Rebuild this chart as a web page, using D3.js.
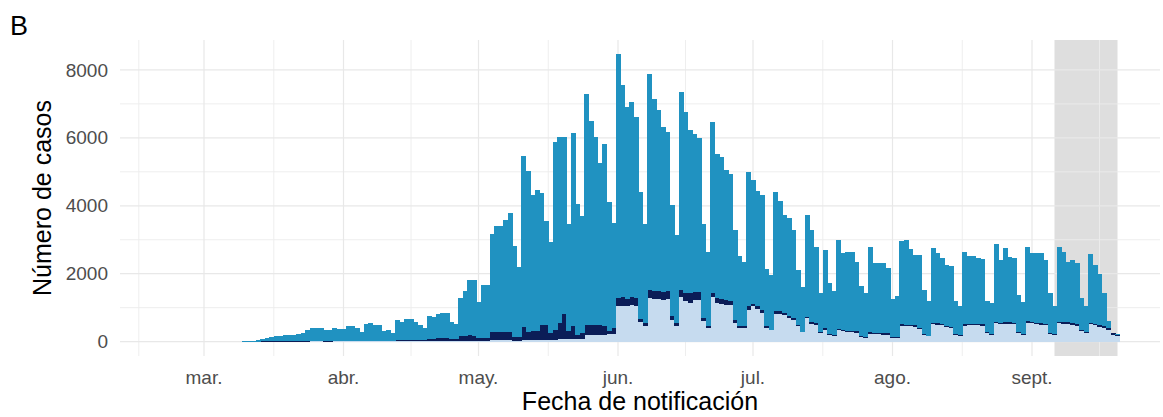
<!DOCTYPE html>
<html lang="es">
<head>
<meta charset="UTF-8">
<title>Número de casos por fecha de notificación</title>
<style>
    html, body { margin: 0; padding: 0; background: #fff; }
    svg { display: block; font-family: "Liberation Sans", Arial, sans-serif; }
    .tick-label { fill: #4d4d4d; font-size: 19px; }
    .axis-title { fill: #000; font-size: 25px; }
    .grid-major { stroke: #e8e8e8; stroke-width: 1.2px; }
    .grid-minor { stroke: #ececec; stroke-width: 0.9px; }
</style>
</head>
<body>
<svg width="1163" height="417"></svg>

<script src="https://d3js.org/d3.v7.min.js"></script>
<script>
    // one value per day, starting 10 March 2020
    const startDate = "2020-03-10";

    // total height of each daily bar
    const totalCases = [
        10, 15, 25, 40, 80, 110, 150, 180, 170, 200,
        200, 210, 230, 260, 330, 400, 410, 390, 330, 350,
        400, 380, 380, 470, 460, 400, 270, 530, 560, 490,
        490, 300, 330, 255, 645, 590, 665, 665, 590, 490,
        400, 760, 740, 820, 840, 830, 565, 527, 1280, 1505,
        1817, 1817, 1163, 1680, 1680, 3155, 3400, 3400, 3595, 3790,
        2813, 2190, 5480, 5010, 4307, 4454, 4375, 3555, 2940, 5870,
        6017, 6017, 3457, 6134, 4043, 3692, 7286, 6485, 6036, 5255,
        5820, 4100, 3480, 8458, 7550, 6895, 7061, 6600, 4420, 3477,
        7872, 7139, 6817, 6329, 6163, 4014, 3135, 7364, 6749, 6231,
        6114, 5987, 3457, 2647, 6475, 5528, 5430, 5040, 4942, 3282,
        2520, 2354, 4991, 4766, 4434, 4307, 2129, 1963, 4405, 4141,
        3720, 3650, 3290, 2110, 1602, 3721, 3301, 2793, 1426, 2696,
        1720, 1504, 2989, 2598, 2647, 2647, 2354, 1642, 1446, 2793,
        2305, 2325, 2325, 2159, 1250, 1350, 2955, 2985, 2715, 2549,
        2549, 1524, 1182, 2745, 2618, 2451, 2256, 2227, 1200, 1036,
        2640, 2520, 2520, 2452, 2440, 1182, 1133, 2861, 2403, 2745,
        2500, 2452, 1377, 1153, 2793, 2598, 2618, 2618, 2403, 1426,
        1055, 2793, 2647, 2354, 2403, 2305, 1280, 1036, 2569, 2256,
        1993, 1426, 596, 254, 230
    ];

    // bottom layer (light blue)
    const lightCases = [
        0, 0, 0, 0, 1, 1, 2, 2, 2, 2,
        2, 2, 3, 3, 3, 4, 4, 4, 3, 3,
        4, 4, 5, 5, 5, 5, 4, 6, 6, 6,
        6, 5, 6, 5, 8, 8, 10, 10, 10, 8,
        8, 14, 14, 15, 15, 15, 12, 12, 20, 20,
        22, 22, 18, 20, 20, 35, 38, 38, 40, 42,
        30, 28, 50, 50, 50, 52, 58, 55, 52, 60,
        70, 80, 80, 80, 75, 80, 200, 205, 205, 205,
        200, 220, 230, 1040, 1060, 1050, 1080, 1050, 580, 450,
        1270, 1260, 1250, 1240, 1250, 645, 469, 1328, 1182, 1133,
        1231, 1230, 597, 400, 1309, 1133, 1110, 1090, 1084, 547,
        400, 400, 918, 1035, 957, 840, 400, 330, 820, 820,
        780, 694, 650, 469, 273, 684, 527, 500, 254, 352,
        205, 156, 332, 300, 280, 270, 260, 140, 120, 234,
        215, 215, 210, 205, 107, 107, 469, 460, 450, 440,
        371, 205, 156, 518, 498, 490, 430, 410, 210, 180,
        469, 480, 490, 480, 470, 254, 205, 547, 520, 530,
        530, 510, 254, 205, 550, 540, 520, 500, 480, 230,
        200, 540, 530, 520, 500, 470, 300, 254, 520, 480,
        440, 400, 332, 200, 170
    ];

    // middle layer (navy)
    const navyCases = [
        1, 1, 2, 2, 3, 3, 4, 4, 4, 5,
        5, 5, 6, 6, 7, 8, 8, 8, 7, 8,
        10, 10, 12, 14, 14, 14, 10, 20, 22, 22,
        22, 15, 20, 15, 35, 35, 40, 40, 35, 30,
        30, 70, 70, 80, 85, 85, 70, 65, 150, 160,
        160, 150, 90, 100, 100, 240, 260, 260, 250, 230,
        120, 100, 380, 230, 270, 250, 440, 445, 200, 270,
        480, 730, 220, 370, 130, 175, 280, 275, 280, 275,
        250, 80, 170, 230, 240, 200, 240, 220, 85, 85,
        240, 230, 240, 220, 230, 100, 78, 196, 244, 290,
        244, 220, 97, 69, 137, 147, 140, 130, 98, 78,
        50, 50, 117, 78, 78, 78, 50, 22, 69, 69,
        60, 68, 50, 30, 25, 40, 40, 50, 40, 50,
        30, 30, 40, 40, 40, 40, 40, 25, 25, 35,
        35, 35, 35, 35, 20, 20, 40, 40, 40, 40,
        35, 25, 20, 40, 40, 40, 35, 35, 25, 20,
        40, 40, 40, 35, 35, 25, 20, 45, 40, 40,
        40, 40, 25, 25, 45, 45, 40, 40, 40, 25,
        20, 40, 40, 45, 45, 45, 30, 25, 40, 50,
        55, 60, 60, 50, 40
    ];

    const yTicks = [0, 2000, 4000, 6000, 8000];
    const yMinorTicks = [1000, 3000, 5000, 7000];
    const monthStarts = ["2020-02-01", "2020-03-01", "2020-04-01", "2020-05-01",
                         "2020-06-01", "2020-07-01", "2020-08-01", "2020-09-01", "2020-10-01"];
    const monthLabels = ["mar.", "abr.", "may.", "jun.", "jul.", "ago.", "sept."];
    const labelDates = ["2020-03-01", "2020-04-01", "2020-05-01", "2020-06-01",
                        "2020-07-01", "2020-08-01", "2020-09-01"];
    const shadeRange = ["2020-09-06", "2020-09-20"];

    const colors = { light: "#c6dbef", navy: "#0b1d57", mid: "#2092c1", shade: "#dedede" };

    const parseDay = d3.timeParse("%Y-%m-%d");
    const parseTime = d3.timeParse("%Y-%m-%d %H:%M");

    const panel = { left: 120, right: 1160, top: 40, bottom: 356 };

    const x = d3.scaleTime()
        .domain([parseTime("2020-02-11 08:00"), parseTime("2020-09-29 10:40")])
        .range([panel.left, panel.right]);

    const y = d3.scaleLinear()
        .domain([-423, 8881])
        .range([panel.bottom, panel.top]);

    const start = parseDay(startDate);
    const days = totalCases.map((t, i) => ({
        date: d3.timeDay.offset(start, i),
        total: t,
        light: lightCases[i],
        navy: navyCases[i]
    }));

    const svg = d3.select("svg");

    // shaded period (under the grid)
    svg.append("rect")
        .attr("x", x(parseDay(shadeRange[0])))
        .attr("width", x(parseDay(shadeRange[1])) - x(parseDay(shadeRange[0])))
        .attr("y", panel.top)
        .attr("height", panel.bottom - panel.top)
        .attr("fill", colors.shade);

    // grid
    const months = monthStarts.map(parseDay);
    const minorX = d3.pairs(months).map(([a, b]) => new Date((+a + +b) / 2))
        .filter(d => x(d) >= panel.left && x(d) <= panel.right);

    svg.append("g").selectAll("line")
        .data(yMinorTicks).join("line")
        .attr("class", "grid-minor")
        .attr("x1", panel.left).attr("x2", panel.right)
        .attr("y1", d => y(d)).attr("y2", d => y(d));

    svg.append("g").selectAll("line")
        .data(minorX).join("line")
        .attr("class", "grid-minor")
        .attr("x1", d => x(d)).attr("x2", d => x(d))
        .attr("y1", panel.top).attr("y2", panel.bottom);

    svg.append("g").selectAll("line")
        .data(yTicks).join("line")
        .attr("class", "grid-major")
        .attr("x1", panel.left).attr("x2", panel.right)
        .attr("y1", d => y(d)).attr("y2", d => y(d));

    svg.append("g").selectAll("line")
        .data(labelDates.map(parseDay)).join("line")
        .attr("class", "grid-major")
        .attr("x1", d => x(d)).attr("x2", d => x(d))
        .attr("y1", panel.top).attr("y2", panel.bottom);

    // bars
    const barX = d => x(d3.timeHour.offset(d.date, -12));
    const barW = d => x(d3.timeHour.offset(d.date, 12)) - x(d3.timeHour.offset(d.date, -12));

    const layers = [
        { key: "light", lo: d => 0, hi: d => d.light },
        { key: "navy", lo: d => d.light, hi: d => d.light + d.navy },
        { key: "mid", lo: d => d.light + d.navy, hi: d => d.total }
    ];

    layers.forEach(layer => {
        svg.append("g")
            .attr("fill", colors[layer.key])
            .attr("shape-rendering", "crispEdges")
            .selectAll("rect")
            .data(days).join("rect")
            .attr("x", barX)
            .attr("width", d => barW(d) + 0.3)
            .attr("y", d => y(layer.hi(d)))
            .attr("height", d => Math.max(0, y(layer.lo(d)) - y(layer.hi(d))));
    });

    // tick labels
    svg.append("g").selectAll("text")
        .data(yTicks).join("text")
        .attr("class", "tick-label")
        .attr("x", 108)
        .attr("y", d => y(d))
        .attr("dy", "0.35em")
        .attr("text-anchor", "end")
        .text(d => d);

    svg.append("g").selectAll("text")
        .data(labelDates).join("text")
        .attr("class", "tick-label")
        .attr("x", d => x(parseDay(d)))
        .attr("y", 384)
        .attr("text-anchor", "middle")
        .text((d, i) => monthLabels[i]);

    // titles
    svg.append("text")
        .attr("class", "axis-title")
        .attr("x", (panel.left + panel.right) / 2)
        .attr("y", 410)
        .attr("text-anchor", "middle")
        .text("Fecha de notificación");

    svg.append("text")
        .attr("class", "axis-title")
        .attr("transform", `translate(51,${(panel.top + panel.bottom) / 2}) rotate(-90)`)
        .attr("text-anchor", "middle")
        .text("Número de casos");

    svg.append("text")
        .attr("x", 10)
        .attr("y", 35)
        .attr("font-size", "27px")
        .attr("fill", "#000")
        .text("B");
</script>
</body>
</html>
